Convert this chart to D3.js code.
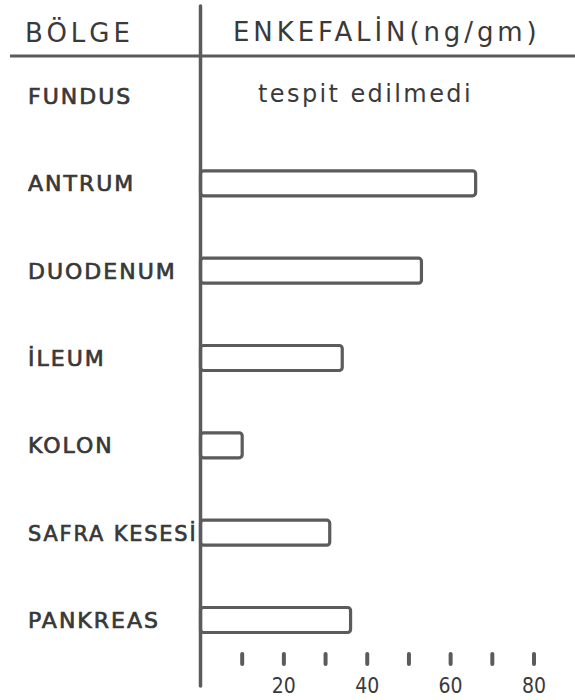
<!DOCTYPE html>
<html>
<head>
<meta charset="utf-8">
<script src="https://cdn.jsdelivr.net/npm/d3@7"></script>
<style>
	body { margin: 0; background: #fff; }
	.row-label { font-family: "DejaVu Sans", sans-serif; font-size: 22px; fill: #383838; stroke: #383838; stroke-width: 0.7px; letter-spacing: 2px; }
	.head-label { font-family: "DejaVu Sans", sans-serif; font-size: 26px; fill: #3a3a3a; }
	.tick-label { font-family: "DejaVu Sans Condensed", "DejaVu Sans", sans-serif; font-size: 21px; fill: #3a3a3a; }
</style>
</head>
<body>
<svg width="575" height="700"></svg>
<script>
// Regions and enkephalin content (ng/gm); null = not detected
var regions = ["FUNDUS", "ANTRUM", "DUODENUM", "İLEUM", "KOLON", "SAFRA KESESİ", "PANKREAS"];
var values = [null, 66, 53, 34, 10, 31, 36];
var tickValues = [10, 20, 30, 40, 50, 60, 70, 80];
var tickLabels = [20, 40, 60, 80];
var notDetected = "tespit edilmedi";
var headRegion = "BÖLGE";
var headValue = "ENKEFALİN(ng/gm)";

var ink = "#5b5b5b";
var svg = d3.select("svg");

var x = d3.scaleLinear().domain([0, 80]).range([200.5, 534]);
var y = d3.scalePoint().domain(regions).range([96, 620]);

// header
svg.append("text").classed("head-label", true)
	.attr("x", 25).attr("y", 42)
	.style("letter-spacing", "4px")
	.text(headRegion);

svg.append("text").classed("head-label", true)
	.attr("x", 233).attr("y", 41)
	.style("letter-spacing", "3.9px")
	.text(headValue);

svg.append("line")
	.attr("x1", 10).attr("x2", 575)
	.attr("y1", 56).attr("y2", 56)
	.attr("stroke", ink).attr("stroke-width", 3);

// vertical axis
svg.append("line")
	.attr("x1", x(0)).attr("x2", x(0))
	.attr("y1", 6).attr("y2", 686)
	.attr("stroke", ink).attr("stroke-width", 3.5)
	.attr("stroke-linecap", "round");

// row labels
svg.selectAll(".row-label")
	.data(regions)
	.enter()
	.append("text")
	.classed("row-label", true)
	.attr("x", 28)
	.attr("y", function(d) { return y(d) + 8; })
	.text(function(d) { return d; })
	.each(function() {
		// squeeze labels that would run into the axis
		var maxW = x(0) - 31;
		if (this.getComputedTextLength() > maxW) {
			d3.select(this).attr("textLength", maxW).attr("lengthAdjust", "spacingAndGlyphs");
		}
	});

// bars
var rows = regions.map(function(r, i) { return {name: r, value: values[i]}; });
var barH = 25;

svg.selectAll(".bar")
	.data(rows.filter(function(d) { return d.value !== null; }))
	.enter()
	.append("rect")
	.classed("bar", true)
	.attr("x", x(0))
	.attr("y", function(d) { return y(d.name) - barH / 2; })
	.attr("width", function(d) { return x(d.value) - x(0); })
	.attr("height", barH)
	.attr("rx", 3)
	.attr("fill", "none")
	.attr("stroke", ink)
	.attr("stroke-width", 3.2);

// not detected note
svg.selectAll(".nd")
	.data(rows.filter(function(d) { return d.value === null; }))
	.enter()
	.append("text")
	.classed("nd", true)
	.attr("x", 258)
	.attr("y", function(d) { return y(d.name) + 6; })
	.style("font-family", "'DejaVu Sans', sans-serif")
	.style("font-size", "24px")
	.style("letter-spacing", "2.4px")
	.style("fill", "#3a3a3a")
	.text(notDetected);

// tick marks along the bottom
svg.selectAll(".tick-mark")
	.data(tickValues)
	.enter()
	.append("line")
	.classed("tick-mark", true)
	.attr("x1", function(d) { return x(d); })
	.attr("x2", function(d) { return x(d); })
	.attr("y1", 654).attr("y2", 664)
	.attr("stroke", ink).attr("stroke-width", 4)
	.attr("stroke-linecap", "round");

svg.selectAll(".tick-label")
	.data(tickLabels)
	.enter()
	.append("text")
	.classed("tick-label", true)
	.attr("x", function(d) { return x(d); })
	.attr("y", 693)
	.attr("text-anchor", "middle")
	.text(function(d) { return d; });
</script>
</body>
</html>
